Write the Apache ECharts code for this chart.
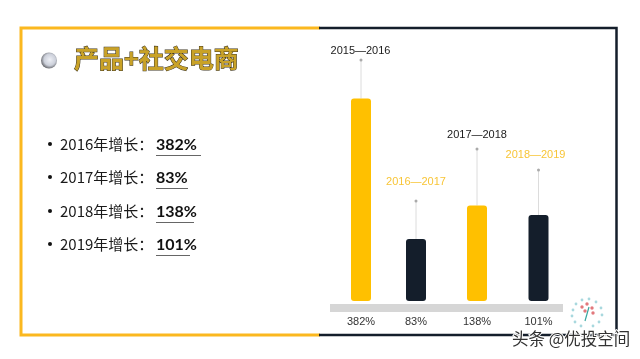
<!DOCTYPE html>
<html>
<head>
<meta charset="utf-8">
<script src="https://cdn.jsdelivr.net/npm/echarts@6/dist/echarts.min.js"></script>
<style>
html, body { margin: 0; padding: 0; background: #fff; }
#chart { width: 640px; height: 359px; }
</style>
</head>
<body>
<div id="chart"></div>
<script>
const periods = ['2015—2016', '2016—2017', '2017—2018', '2018—2019']
const growthLabels = ['382%', '83%', '138%', '101%']
const barCenters = [361, 416, 477, 538.5]
const barHeights = [202.5, 62, 95.5, 86]
const pinHeights = [241, 100, 152, 131]
const listYears = ['2016年增长：', '2017年增长：', '2018年增长：', '2019年增长：']

const yellow = '#ffc000'
const frameYellow = '#fbb81f'
const navy = '#141e2b'
const cjk = '"Noto Sans CJK SC", Lato, sans-serif'

const chart = echarts.init(document.getElementById('chart'))

// thin grey pins standing on the bars
const pinSeries = barCenters.map((x, i) => ({
  type: 'line',
  silent: true,
  z: 1,
  symbol: 'none',
  lineStyle: { color: '#dcdcdc', width: 1 },
  data: [[x, barHeights[i]], [x, pinHeights[i]]]
}))

const labelShift = [[-0.5, 3], [0, -7], [0, -2], [-3, -3]]
const labelColors = ['#1a1a1a', '#f8c537', '#1a1a1a', '#f8c537']

// list rows on the left, drawn with graphic since they are not marks
const rowY = [144, 177, 211, 244]
const lineEnd = [201, 188, 194, 190]
const listGraphics = []
listYears.forEach((t, i) => {
  listGraphics.push(
    { type: 'circle', shape: { cx: 50, cy: rowY[i], r: 2 }, style: { fill: '#111' } },
    { type: 'text', left: 60, top: rowY[i] - 7, style: { text: t, font: '400 15px ' + cjk, fill: '#1a1a1a' } },
    { type: 'text', left: 156, top: rowY[i] - 7, style: { text: growthLabels[i], font: '700 16px Lato, ' + cjk, fill: '#111' } },
    { type: 'rect', shape: { x: 156, y: rowY[i] + 11, width: lineEnd[i] - 156, height: 1 }, style: { fill: '#666' } }
  )
})

// little tree badge next to the grey band
const badgeDots = [[-14, -3], [-11, -9], [-5, -13], [2, -14], [9, -11], [14, -5], [15, 2], [-15, 3], [-12, 9], [12, 9], [-6, 13], [6, 13]]
const heartDots = [[-5, -3], [0, -6], [5, -2], [-2, 1], [6, 3]]
const badge = []
badgeDots.forEach(d => badge.push({ type: 'circle', shape: { cx: 587 + d[0], cy: 313 + d[1], r: 1.4 }, style: { fill: '#a8d8de' } }))
heartDots.forEach(d => badge.push({ type: 'circle', shape: { cx: 587 + d[0], cy: 310 + d[1], r: 1.7 }, style: { fill: '#e2787c' } }))
badge.push({ type: 'line', shape: { x1: 585, y1: 321, x2: 589, y2: 307 }, style: { stroke: '#3aa7a0', lineWidth: 1.2 } })

const option = {
  backgroundColor: '#fff',
  animation: false,
  title: {
    text: '产品+社交电商',
    left: 69,
    top: 41,
    textStyle: {
      fontFamily: cjk,
      fontSize: 25,
      fontWeight: 'bold',
      color: '#c9a227',
      textBorderColor: '#3a3320',
      textBorderWidth: 1
    }
  },
  grid: { left: 330, right: 77, top: 41, bottom: 58 },
  xAxis: {
    type: 'value',
    min: 330,
    max: 563,
    offset: 7,
    splitLine: { show: false },
    axisTick: { show: false },
    axisLabel: { show: false },
    axisLine: { show: true, onZero: false, lineStyle: { color: '#d6d6d6', width: 8, cap: 'butt' } }
  },
  yAxis: { type: 'value', min: 0, max: 260, show: false },
  series: [
    ...pinSeries,
    {
      type: 'bar',
      barWidth: 20,
      z: 2,
      data: barCenters.map((x, i) => ({
        value: [x, barHeights[i]],
        itemStyle: { color: i % 2 ? navy : yellow, borderRadius: 3 }
      }))
    },
    {
      // pin heads with the period text above them
      type: 'scatter',
      symbolSize: 3,
      itemStyle: { color: '#aaa', opacity: 1 },
      data: barCenters.map((x, i) => ({
        value: [x, pinHeights[i]],
        label: {
          show: true,
          position: 'top',
          offset: labelShift[i],
          formatter: periods[i],
          fontFamily: 'Liberation Sans, Arial, sans-serif',
          fontSize: 11,
          color: labelColors[i]
        }
      }))
    },
    {
      // percentages under the grey band
      type: 'scatter',
      symbolSize: 0,
      itemStyle: { opacity: 1 },
      data: barCenters.map((x, i) => ({
        value: [x, 0],
        label: {
          show: true,
          position: 'bottom',
          offset: [0, 10],
          formatter: growthLabels[i],
          fontFamily: 'Liberation Sans, Arial, sans-serif',
          fontSize: 11,
          color: '#333'
        }
      }))
    }
  ],
  graphic: [
    { type: 'polyline', shape: { points: [[320, 28], [21, 28], [21, 335], [320, 335]] }, style: { stroke: frameYellow, lineWidth: 3, fill: 'none' } },
    { type: 'polyline', shape: { points: [[319, 28], [616.5, 28], [616.5, 335], [319, 335]] }, style: { stroke: navy, lineWidth: 2.5, fill: 'none' } },
    {
      type: 'circle',
      shape: { cx: 49, cy: 60.5, r: 8 },
      style: {
        fill: new echarts.graphic.RadialGradient(0.55, 0.45, 0.6, [
          { offset: 0, color: '#eef0f6' },
          { offset: 0.6, color: '#ccd0da' },
          { offset: 1, color: '#55565a' }
        ])
      }
    },
    ...listGraphics,
    ...badge,
    {
      type: 'text',
      left: 511,
      top: 329,
      z: 10,
      style: {
        text: '头条 @优投空间',
        font: '400 16.5px ' + cjk,
        fill: '#333',
        stroke: '#fff',
        lineWidth: 2
      }
    }
  ]
}
chart.setOption(option)
</script>
</body>
</html>
